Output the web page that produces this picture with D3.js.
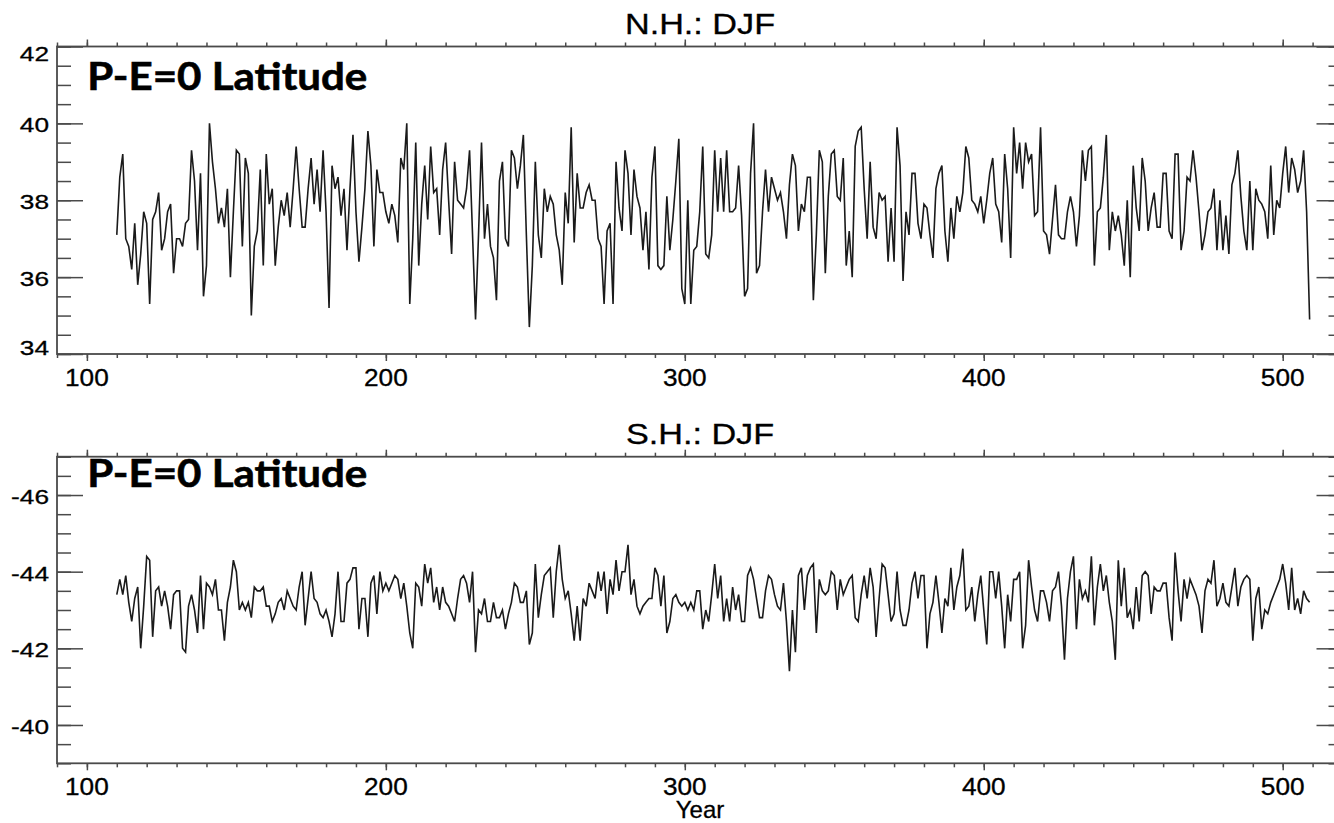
<!DOCTYPE html>
<html>
<head>
<meta charset="utf-8">
<script src="https://cdn.jsdelivr.net/npm/d3@7"></script>
<style>
    body { margin: 0; background: #fff; }
    svg { display: block; }
</style>
</head>
<body>
<svg id="chart"></svg>
<script>
// one value per year, starting at startYear
const startYear = 110;

const nhDJF = [
    37.1, 38.6, 39.2, 37.0, 36.8, 36.2, 37.4, 35.8, 36.6, 37.7,
    37.4, 35.3, 37.5, 37.7, 38.2, 36.7, 37.0, 37.7, 37.9, 36.1,
    37.0, 37.0, 36.8, 37.4, 37.5, 39.3, 38.5, 36.7, 38.7, 35.5,
    36.3, 40.0, 39.0, 38.3, 37.4, 37.8, 37.3, 38.3, 36.0, 37.7,
    39.3, 39.2, 36.8, 39.1, 38.7, 35.0, 36.8, 37.2, 38.8, 36.3,
    39.2, 37.9, 38.3, 36.3, 37.3, 38.0, 37.6, 38.2, 37.3, 38.3,
    39.4, 38.3, 37.3, 37.3, 38.3, 39.1, 37.9, 38.8, 37.7, 39.3,
    37.7, 35.2, 38.9, 38.3, 38.6, 37.6, 38.3, 36.7, 38.3, 39.7,
    37.7, 36.4, 37.3, 38.3, 39.8, 38.9, 36.8, 38.8, 38.2, 38.2,
    37.7, 37.4, 37.9, 37.6, 36.9, 39.1, 38.8, 40.0, 35.3, 37.0,
    39.5, 36.3, 37.9, 38.9, 37.5, 39.4, 38.2, 38.3, 37.1, 38.8,
    39.5, 38.0, 36.6, 39.0, 38.0, 37.9, 37.8, 38.3, 39.3, 37.1,
    34.9, 37.1, 39.5, 37.0, 37.9, 36.8, 36.5, 35.4, 38.5, 39.0,
    37.0, 36.8, 39.3, 39.1, 38.3, 38.9, 39.7, 37.1, 34.7, 36.3,
    39.0, 37.1, 36.5, 38.3, 37.7, 38.1, 37.9, 37.1, 36.7, 35.8,
    38.2, 37.4, 39.9, 36.9, 38.7, 37.8, 37.8, 38.2, 38.4, 38.0,
    38.0, 37.0, 36.8, 35.3, 37.2, 37.4, 35.3, 39.0, 37.8, 37.2,
    39.3, 38.7, 37.1, 38.8, 38.1, 37.8, 36.7, 37.7, 36.2, 38.6,
    39.4, 36.3, 36.2, 36.3, 38.1, 36.7, 37.5, 38.5, 39.6, 35.7,
    35.3, 38.0, 35.3, 36.7, 36.8, 37.7, 39.4, 36.6, 36.5, 37.1,
    39.3, 37.7, 39.1, 37.7, 39.3, 37.7, 37.7, 37.8, 38.9, 37.6,
    35.5, 35.7, 38.7, 40.0, 36.1, 36.3, 37.7, 38.8, 37.7, 38.6,
    38.3, 38.0, 38.2, 37.7, 37.0, 38.4, 39.2, 38.9, 37.2, 37.9,
    37.7, 38.6, 38.6, 35.4, 37.1, 39.3, 39.0, 36.1, 38.1, 39.2,
    39.3, 38.1, 38.0, 39.1, 36.3, 37.2, 36.0, 39.4, 39.8, 39.9,
    38.3, 37.0, 39.0, 37.3, 37.0, 38.2, 38.0, 38.1, 36.4, 37.8,
    36.4, 39.9, 38.9, 35.9, 37.7, 37.1, 38.7, 38.7, 37.4, 37.0,
    37.9, 37.8, 37.1, 36.5, 38.3, 38.7, 38.9, 37.2, 36.4, 37.8,
    37.0, 38.1, 37.7, 38.2, 39.4, 39.1, 38.0, 37.9, 37.7, 38.1,
    37.4, 38.0, 38.7, 39.1, 37.9, 37.7, 36.9, 39.2, 38.3, 36.5,
    39.9, 38.7, 39.5, 38.3, 39.5, 39.0, 39.2, 37.6, 37.7, 39.9,
    37.2, 37.1, 36.6, 37.5, 38.4, 37.1, 37.0, 37.0, 37.7, 38.1,
    37.7, 36.8, 37.6, 39.3, 38.5, 39.3, 39.4, 36.3, 37.7, 37.8,
    38.6, 39.7, 36.7, 37.7, 37.2, 37.6, 37.1, 36.3, 38.0, 36.0,
    38.9, 37.8, 37.2, 39.1, 38.5, 37.2, 37.8, 38.2, 37.3, 37.3,
    38.7, 38.7, 37.2, 37.0, 39.2, 39.2, 36.7, 37.2, 38.6, 38.5,
    39.3, 38.6, 37.7, 36.7, 37.1, 37.7, 37.8, 38.3, 36.7, 38.0,
    36.7, 37.6, 36.6, 38.4, 38.7, 39.3, 38.1, 37.2, 36.7, 38.5,
    36.7, 38.3, 38.0, 37.9, 37.7, 37.0, 38.9, 37.1, 38.0, 37.8,
    38.7, 39.4, 38.2, 39.1, 38.8, 38.2, 38.5, 39.3, 37.7, 34.9
];

const shDJF = [
    -43.4, -43.8, -43.4, -43.9, -43.2, -42.7, -43.3, -43.6, -42.0, -43.1,
    -44.4, -44.3, -42.3, -43.5, -43.6, -43.1, -43.5, -43.1, -42.5, -43.4,
    -43.5, -43.5, -42.0, -41.9, -43.1, -43.4, -43.0, -42.4, -43.9, -42.5,
    -43.7, -43.6, -43.4, -43.8, -43.0, -43.0, -42.2, -43.2, -43.6, -44.3,
    -44.0, -43.0, -43.2, -43.0, -43.2, -42.8, -43.6, -43.5, -43.5, -43.6,
    -43.1, -43.1, -42.7, -42.9, -43.2, -43.3, -43.0, -43.5, -43.3, -43.1,
    -43.0, -43.6, -44.0, -42.6, -43.3, -44.0, -43.3, -43.2, -42.9, -42.8,
    -43.0, -42.7, -42.3, -42.9, -44.0, -42.7, -42.7, -43.7, -43.8, -44.1,
    -44.1, -42.5, -43.3, -43.3, -42.3, -43.7, -43.9, -42.9, -44.0, -43.5,
    -43.7, -43.5, -43.7, -43.9, -43.8, -43.3, -43.7, -43.1, -42.4, -42.0,
    -43.7, -43.6, -43.1, -44.2, -43.7, -44.1, -43.2, -43.6, -43.0, -43.6,
    -43.2, -43.1, -42.9, -42.7, -43.3, -43.8, -43.9, -43.7, -43.2, -44.0,
    -41.9, -43.0, -42.9, -43.3, -42.7, -42.7, -43.2, -42.8, -42.8, -43.0,
    -42.5, -42.9, -43.2, -43.7, -43.6, -43.2, -43.2, -43.5, -42.1, -42.4,
    -44.2, -42.8, -43.4, -43.9, -44.0, -44.1, -42.8, -44.0, -44.7, -43.8,
    -43.3, -43.5, -42.9, -42.2, -43.1, -42.2, -43.3, -43.1, -43.7, -43.5,
    -43.3, -44.0, -43.5, -44.0, -42.9, -43.8, -43.4, -44.3, -43.5, -44.0,
    -44.0, -44.7, -43.4, -43.8, -43.1, -42.9, -43.1, -43.2, -43.3, -43.3,
    -44.1, -43.9, -43.1, -43.9, -42.4, -42.7, -43.3, -43.4, -43.2, -43.1,
    -43.2, -43.0, -43.2, -43.0, -43.5, -43.5, -42.5, -43.0, -42.7, -43.4,
    -44.2, -43.3, -43.9, -42.7, -43.3, -42.7, -43.6, -43.0, -43.4, -42.7,
    -42.7, -43.9, -44.1, -43.8, -43.3, -42.8, -42.8, -43.5, -43.9, -43.8,
    -43.4, -43.1, -43.0, -43.7, -42.7, -41.4, -43.0, -41.9, -43.9, -44.1,
    -43.0, -43.9, -44.1, -44.2, -42.4, -43.8, -43.5, -43.4, -43.5, -44.0,
    -43.9, -43.0, -43.8, -43.4, -43.6, -43.8, -43.9, -42.8, -42.7, -43.4,
    -43.9, -43.3, -44.1, -43.6, -42.3, -43.3, -44.2, -44.1, -43.4, -42.7,
    -42.9, -44.0, -43.0, -42.6, -42.6, -43.0, -43.7, -44.0, -43.3, -43.9,
    -43.9, -42.0, -42.9, -43.2, -43.9, -43.2, -42.4, -43.3, -43.1, -44.1,
    -43.0, -43.6, -43.9, -44.6, -43.0, -43.1, -43.6, -42.7, -43.4, -43.9,
    -43.0, -42.1, -44.0, -44.0, -43.3, -44.0, -43.1, -42.0, -43.4, -42.7,
    -43.8, -43.8, -44.0, -42.0, -42.6, -44.3, -43.6, -43.0, -42.7, -43.5,
    -43.5, -43.2, -42.7, -43.5, -43.6, -44.0, -43.1, -41.7, -43.3, -44.0,
    -44.4, -42.5, -43.8, -43.3, -43.5, -43.2, -44.4, -42.6, -43.6, -44.2,
    -43.5, -43.9, -43.2, -42.7, -41.7, -44.3, -43.1, -44.1, -42.8, -43.0,
    -42.5, -43.6, -42.7, -43.9, -44.0, -43.9, -42.9, -43.6, -43.5, -43.5,
    -43.7, -43.7, -42.8, -42.2, -44.5, -43.5, -42.7, -43.8, -43.3, -43.8,
    -43.6, -43.4, -43.1, -42.4, -43.5, -43.8, -43.7, -44.3, -43.1, -43.3,
    -43.7, -43.2, -43.1, -43.6, -44.1, -43.1, -43.6, -43.8, -43.9, -43.8,
    -42.2, -43.3, -43.6, -42.5, -43.0, -42.9, -43.2, -43.4, -43.6, -43.8,
    -44.2, -43.7, -43.0, -44.1, -43.0, -43.3, -42.9, -43.5, -43.3, -43.2
];

const xTicks = [100, 200, 300, 400, 500];
const nhTicks = [34, 36, 38, 40, 42];
const shTicks = [-46, -44, -42, -40];
const titles = ["N.H.: DJF", "S.H.: DJF"];
const overlayText = "P-E=0 Latitude";

const width = 1334;
const height = 823;
const left = 57;
const right = 1342.5;   // the right frame sits just outside the picture
const ink = "#4a4a4a";
const helv = "'Liberation Sans', Arial, Helvetica, sans-serif";

let svg = d3.select("#chart")
    .attr("width", width)
    .attr("height", height);

let x = d3.scaleLinear().domain([90, 520]).range([left, right]);

// text stretched sideways, like the squeezed original
function stretchText(str, px, py, size, sx, anchor) {
    svg.append("text")
        .attr("transform", `translate(${px},${py}) scale(${sx},1)`)
        .attr("text-anchor", anchor)
        .style("font-family", helv)
        .style("font-size", size + "px")
        .style("fill", "#000")
        .style("stroke", "#000")
        .style("stroke-width", 0.3)
        .text(str);
}

function ticks(axis, values, size, transform) {
    svg.append("g")
        .attr("transform", transform)
        .call(axis.tickValues(values).tickSize(size).tickFormat(""))
        .call(g => g.select(".domain").remove())
        .selectAll("line")
        .attr("stroke", ink)
        .attr("stroke-width", 1.5);
}

function drawPanel(p) {
    let y = d3.scaleLinear().domain(p.domain).range([p.bottom, p.top]);

    // frame
    svg.append("rect")
        .attr("x", left).attr("y", p.top)
        .attr("width", right - left).attr("height", p.bottom - p.top)
        .attr("fill", "none")
        .attr("stroke", ink)
        .attr("stroke-width", 1.8);

    let lo = Math.min(...p.domain), hi = Math.max(...p.domain);
    let yMinor = d3.range(lo, hi + 0.01, 0.5);
    let xMinor = d3.range(90, 521, 10);

    ticks(d3.axisRight(y), yMinor, 14, `translate(${left},0)`);
    ticks(d3.axisRight(y), p.ticks, 26, `translate(${left},0)`);
    ticks(d3.axisLeft(y), yMinor, 14, `translate(${right},0)`);
    ticks(d3.axisLeft(y), p.ticks, 26, `translate(${right},0)`);
    ticks(d3.axisTop(x), xMinor, -4, `translate(0,${p.bottom})`);
    ticks(d3.axisTop(x), xTicks, -7, `translate(0,${p.bottom})`);
    ticks(d3.axisBottom(x), xMinor, -4, `translate(0,${p.top})`);
    ticks(d3.axisBottom(x), xTicks, -7, `translate(0,${p.top})`);

    // y labels, kept inside the frame at the ends
    p.ticks.forEach(t => {
        let cy = Math.min(Math.max(y(t) + 1.5, p.top + 6.5), p.bottom - 6.5);
        stretchText(String(t), 49, cy + 7.5, 21, 1.25, "end");
    });

    xTicks.forEach(t => stretchText(String(t), x(t), p.bottom + 31.5, 23, 1.14, "middle"));

    stretchText(p.title, 700, p.top - 12.5, 29, 1.18, "middle");

    svg.append("path")
        .datum(p.values)
        .attr("fill", "none")
        .attr("stroke", "#1a1a1a")
        .attr("stroke-width", 1.6)
        .attr("d", d3.line()
            .x((d, i) => x(startYear + i))
            .y(d => y(d)));

    svg.append("text")
        .attr("x", 87.3)
        .attr("y", p.labelY)
        .attr("textLength", 280)
        .attr("lengthAdjust", "spacingAndGlyphs")
        .style("font-family", "Lato, 'Open Sans', sans-serif")
        .style("font-weight", 700)
        .style("font-size", "38px")
        .style("fill", "#000")
        .style("stroke", "#000")
        .style("stroke-width", 0.6)
        .text(overlayText);
}

drawPanel({ values: nhDJF, domain: [34, 42], ticks: nhTicks, top: 46.5, bottom: 354,
    title: titles[0], labelY: 90 });
drawPanel({ values: shDJF, domain: [-39, -47], ticks: shTicks, top: 456.7, bottom: 763.3,
    title: titles[1], labelY: 487 });

svg.append("text")
    .attr("x", 700)
    .attr("y", 818)
    .attr("text-anchor", "middle")
    .style("font-family", helv)
    .style("font-size", "24px")
    .style("fill", "#000")
    .style("stroke", "#000")
    .style("stroke-width", 0.3)
    .text("Year");
</script>
</body>
</html>
